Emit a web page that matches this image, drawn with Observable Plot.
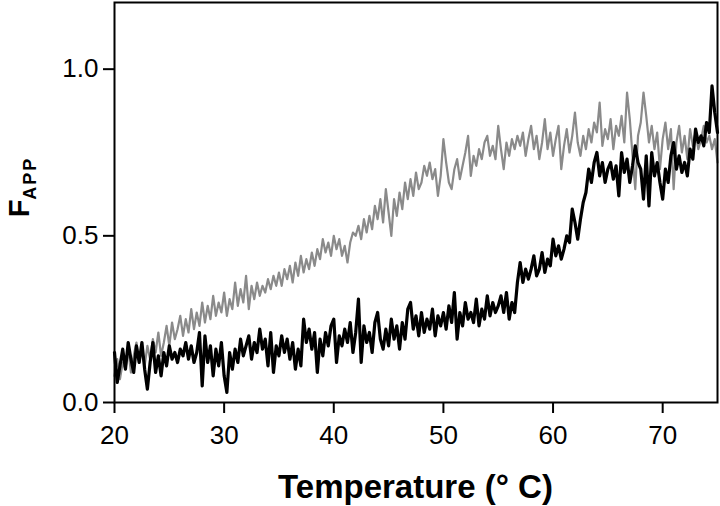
<!DOCTYPE html>
<html>
<head>
<meta charset="utf-8">
<script src="https://cdn.jsdelivr.net/npm/d3@7"></script>
<script src="https://cdn.jsdelivr.net/npm/@observablehq/plot@0.6"></script>
<style>
  html, body { margin: 0; padding: 0; background: #fff; }
  #chart { width: 720px; height: 506px; }
</style>
</head>
<body>
<div id="chart"></div>
<script>
// Temperature grid (°C), sampled every 0.25 °C from 20 to 75
const tStart = 20, tEnd = 75, tStep = 0.25;
const temperature = d3.range(tStart, tEnd + tStep / 2, tStep);

// Gray trace (FAPP), 4 values per degree
const grayTrace = [
  0.08, 0.13, 0.07, 0.12,  // 20
  0.10, 0.16, 0.09, 0.14,  // 21
  0.18, 0.12, 0.16, 0.11,  // 22
  0.17, 0.13, 0.19, 0.15,  // 23
  0.21, 0.14, 0.18, 0.23,  // 24
  0.17, 0.24, 0.19, 0.22,  // 25
  0.26, 0.20, 0.25, 0.21,  // 26
  0.28, 0.22, 0.27, 0.23,  // 27
  0.30, 0.24, 0.29, 0.25,  // 28
  0.32, 0.26, 0.30, 0.27,  // 29
  0.33, 0.26, 0.31, 0.28,  // 30
  0.36, 0.29, 0.34, 0.30,  // 31
  0.38, 0.28, 0.35, 0.31,  // 32
  0.36, 0.32, 0.35, 0.33,  // 33
  0.37, 0.34, 0.38, 0.35,  // 34
  0.39, 0.35, 0.40, 0.37,  // 35
  0.41, 0.36, 0.42, 0.38,  // 36
  0.44, 0.39, 0.43, 0.40,  // 37
  0.45, 0.41, 0.46, 0.43,  // 38
  0.49, 0.45, 0.48, 0.44,  // 39
  0.50, 0.46, 0.49, 0.44,  // 40
  0.47, 0.42, 0.48, 0.51,  // 41
  0.50, 0.53, 0.49, 0.55,  // 42
  0.51, 0.56, 0.52, 0.59,  // 43
  0.55, 0.61, 0.54, 0.64,  // 44
  0.57, 0.50, 0.61, 0.56,  // 45
  0.63, 0.58, 0.66, 0.61,  // 46
  0.67, 0.62, 0.69, 0.64,  // 47
  0.66, 0.71, 0.68, 0.72,  // 48
  0.67, 0.70, 0.62, 0.68,  // 49
  0.79, 0.72, 0.66, 0.64,  // 50
  0.70, 0.73, 0.67, 0.71,  // 51
  0.75, 0.80, 0.68, 0.74,  // 52
  0.71, 0.76, 0.73, 0.78,  // 53
  0.80, 0.74, 0.77, 0.73,  // 54
  0.83, 0.76, 0.70, 0.78,  // 55
  0.74, 0.79, 0.76, 0.80,  // 56
  0.77, 0.81, 0.74, 0.79,  // 57
  0.83, 0.76, 0.80, 0.73,  // 58
  0.78, 0.85, 0.76, 0.81,  // 59
  0.74, 0.79, 0.83, 0.70,  // 60
  0.77, 0.82, 0.75, 0.80,  // 61
  0.87, 0.78, 0.74, 0.80,  // 62
  0.76, 0.82, 0.78, 0.84,  // 63
  0.81, 0.90, 0.77, 0.82,  // 64
  0.79, 0.85, 0.76, 0.83,  // 65
  0.80, 0.86, 0.78, 0.93,  // 66
  0.85, 0.74, 0.64, 0.80,  // 67
  0.84, 0.93, 0.86, 0.78,  // 68
  0.83, 0.76, 0.81, 0.70,  // 69
  0.79, 0.84, 0.76, 0.82,  // 70
  0.64, 0.78, 0.83, 0.75,  // 71
  0.80, 0.73, 0.82, 0.77,  // 72
  0.81, 0.76, 0.79, 0.83,  // 73
  0.78, 0.80, 0.76, 0.79,  // 74
  0.72                     // 75
];

// Black trace (FAPP), 4 values per degree
const blackTrace = [
  0.15, 0.06, 0.11, 0.16,  // 20
  0.10, 0.18, 0.13, 0.09,  // 21
  0.17, 0.12, 0.18, 0.10,  // 22
  0.04, 0.12, 0.18, 0.09,  // 23
  0.14, 0.08, 0.15, 0.11,  // 24
  0.17, 0.13, 0.15, 0.12,  // 25
  0.16, 0.14, 0.18, 0.13,  // 26
  0.17, 0.12, 0.15, 0.21,  // 27
  0.05, 0.20, 0.12, 0.17,  // 28
  0.08, 0.16, 0.11, 0.18,  // 29
  0.08, 0.03, 0.15, 0.10,  // 30
  0.16, 0.12, 0.19, 0.14,  // 31
  0.17, 0.20, 0.13, 0.18,  // 32
  0.15, 0.22, 0.16, 0.19,  // 33
  0.11, 0.21, 0.09, 0.17,  // 34
  0.14, 0.20, 0.15, 0.19,  // 35
  0.13, 0.18, 0.10, 0.16,  // 36
  0.11, 0.25, 0.18, 0.22,  // 37
  0.16, 0.21, 0.09, 0.19,  // 38
  0.14, 0.21, 0.17, 0.23,  // 39
  0.25, 0.12, 0.20, 0.17,  // 40
  0.22, 0.18, 0.24, 0.15,  // 41
  0.21, 0.31, 0.12, 0.23,  // 42
  0.18, 0.21, 0.15, 0.24,  // 43
  0.27, 0.19, 0.16, 0.22,  // 44
  0.17, 0.25, 0.19, 0.23,  // 45
  0.16, 0.24, 0.19, 0.28,  // 46
  0.30, 0.22, 0.26, 0.20,  // 47
  0.27, 0.21, 0.25, 0.22,  // 48
  0.28, 0.20, 0.26, 0.23,  // 49
  0.27, 0.22, 0.29, 0.24,  // 50
  0.33, 0.19, 0.27, 0.23,  // 51
  0.30, 0.25, 0.27, 0.24,  // 52
  0.31, 0.23, 0.28, 0.25,  // 53
  0.32, 0.26, 0.30, 0.27,  // 54
  0.29, 0.32, 0.27, 0.33,  // 55
  0.25, 0.30, 0.27, 0.36,  // 56
  0.42, 0.36, 0.40, 0.37,  // 57
  0.40, 0.44, 0.38, 0.40,  // 58
  0.45, 0.39, 0.43, 0.41,  // 59
  0.49, 0.44, 0.47, 0.43,  // 60
  0.46, 0.50, 0.48, 0.58,  // 61
  0.54, 0.49, 0.55, 0.60,  // 62
  0.63, 0.70, 0.66, 0.72,  // 63
  0.75, 0.68, 0.72, 0.66,  // 64
  0.70, 0.72, 0.67, 0.71,  // 65
  0.62, 0.75, 0.69, 0.73,  // 66
  0.66, 0.71, 0.77, 0.72,  // 67
  0.70, 0.61, 0.74, 0.59,  // 68
  0.75, 0.68, 0.72, 0.66,  // 69
  0.61, 0.70, 0.66, 0.74,  // 70
  0.78, 0.70, 0.74, 0.69,  // 71
  0.72, 0.68, 0.76, 0.73,  // 72
  0.82, 0.78, 0.80, 0.77,  // 73
  0.84, 0.81, 0.95, 0.87,  // 74
  0.81                     // 75
];

const xTicks = [20, 30, 40, 50, 60, 70];
const yTicks = [0, 0.5, 1.0];
const xLabel = "Temperature (° C)";
const yLabelMain = "F";
const yLabelSub = "APP";

const grayData = temperature.map((t, i) => ({t, v: grayTrace[i]}));
const blackData = temperature.map((t, i) => ({t, v: blackTrace[i]}));

const W = 720, H = 506;
const mL = 114, mR = 3, mT = 2, mB = 104;
const FONT = "'Liberation Sans', Arial, sans-serif";
const TICK = 11;

const plot = Plot.plot({
  width: W,
  height: H,
  marginLeft: mL,
  marginRight: mR,
  marginTop: mT,
  marginBottom: mB,
  style: {fontFamily: FONT, background: "#fff"},
  x: {domain: [20, 75]},
  y: {domain: [0, 1.2]},
  marks: [
    Plot.line(grayData, {x: "t", y: "v", stroke: "#8a8a8a", strokeWidth: 2.2}),
    Plot.line(blackData, {x: "t", y: "v", stroke: "#000", strokeWidth: 3.2}),
    Plot.frame({stroke: "#000", strokeWidth: 2}),
    Plot.axisX(xTicks, {anchor: "bottom", tickSize: TICK, tickPadding: 12, tickFormat: d => String(d),
                stroke: "#000", strokeWidth: 2, fill: "#000", fontSize: 26, label: null}),
    Plot.axisY(yTicks, {anchor: "left", tickSize: TICK, tickPadding: 5, tickFormat: d3.format(".1f"),
                stroke: "#000", strokeWidth: 2, fill: "#000", fontSize: 26, label: null})
  ]
});

document.getElementById("chart").appendChild(plot);

const svg = d3.select(plot);

// Axis titles
svg.append("text")
  .attr("x", mL + (W - mL - mR) / 2)
  .attr("y", 498)
  .attr("text-anchor", "middle")
  .attr("font-family", FONT)
  .attr("font-weight", "bold")
  .attr("font-size", 33)
  .attr("fill", "#000")
  .text(xLabel);

const yl = svg.append("text")
  .attr("transform", "translate(29,187) rotate(-90)")
  .attr("text-anchor", "middle")
  .attr("font-family", FONT)
  .attr("font-weight", "bold")
  .attr("fill", "#000");
yl.append("tspan").attr("font-size", 29).text(yLabelMain);
yl.append("tspan").attr("font-size", 18).attr("dy", 7).attr("letter-spacing", 2).text(yLabelSub);
</script>
</body>
</html>
